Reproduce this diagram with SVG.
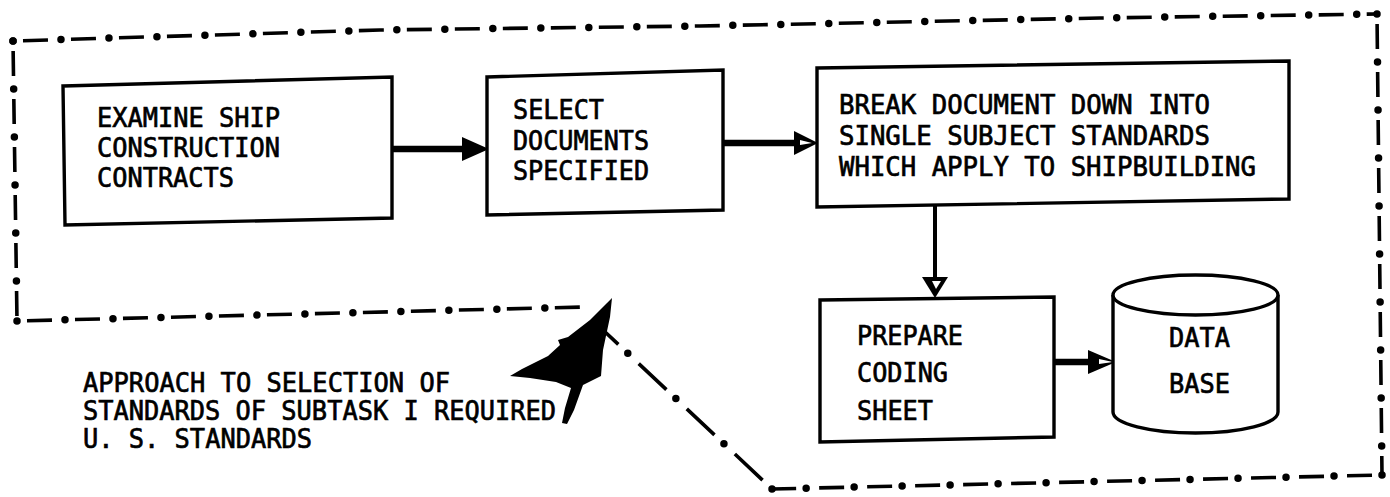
<svg xmlns="http://www.w3.org/2000/svg" width="1390" height="497" viewBox="0 0 1390 497">
<style>
.bg{fill:#fff}
.box{fill:#fff;stroke:#000;stroke-width:3.4;stroke-linejoin:miter}
.t{font-family:"DejaVu Sans Mono","Liberation Mono",monospace;font-size:27px;font-weight:normal;fill:#000;stroke:#000;stroke-width:0.7}
.dash{fill:none;stroke:#000;stroke-width:3.6;stroke-dasharray:25 23;stroke-dashoffset:-10}
.dot{fill:none;stroke:#000;stroke-width:7.5;stroke-linecap:round;stroke-dasharray:0 48}
.ddash{fill:none;stroke:#000;stroke-width:3.6;stroke-dasharray:38 28;stroke-dashoffset:-13}
.ddot{fill:none;stroke:#000;stroke-width:7.5;stroke-linecap:round;stroke-dasharray:0 66}
.shaft{stroke:#000;fill:none}
.head{fill:#000}
.hole{fill:#fff}
</style>
<rect class="bg" x="0" y="0" width="1390" height="497"/>
<defs>
<path id="bTop" d="M13,41 L380,30 L700,26 L1100,18 L1377,14"/>
<path id="bRight" d="M1377,14 L1382,475"/>
<path id="bBotR" d="M1382,475 L772,489"/>
<path id="bDiag" d="M772,489 L603,330"/>
<path id="bBotL" d="M17,321 L583,307"/>
<path id="bLeft" d="M13,41 L17,321"/>
</defs>
<g id="boundary">
<use href="#bTop" class="dash"/><use href="#bTop" class="dot"/>
<use href="#bRight" class="dash"/><use href="#bRight" class="dot"/>
<use href="#bBotR" class="dash"/><use href="#bBotR" class="dot"/>
<use href="#bDiag" class="ddash"/><use href="#bDiag" class="ddot"/>
<use href="#bBotL" class="dash"/><use href="#bBotL" class="dot"/>
<use href="#bLeft" class="dash"/><use href="#bLeft" class="dot"/>
</g>
<g id="connectors">
<line class="shaft" x1="392" y1="149" x2="466" y2="149" stroke-width="6.5"/>
<polygon class="head" points="489,149 462,137 462,161"/>
<line class="shaft" x1="723" y1="143" x2="798" y2="143" stroke-width="6.5"/>
<polygon class="head" points="818,143 794,131 794,155"/>
<polygon class="hole" points="800,140 812,143 800,145"/>
<line class="shaft" x1="935" y1="203" x2="935" y2="280" stroke-width="4"/>
<polygon class="head" points="935,298 922,277 948,277"/>
<polygon class="hole" points="932,281 941,281 936,289"/>
<line class="shaft" x1="1054" y1="362" x2="1090" y2="362" stroke-width="6.5"/>
<polygon class="head" points="1116,362 1088,350 1088,374"/>
<polygon class="hole" points="1099,359 1113,362 1099,364"/>
</g>
<g id="n1">
<polygon class="box" points="63,86 392,77 392,218 65,225"/>
<text class="t" x="97" y="127" textLength="183" lengthAdjust="spacingAndGlyphs">EXAMINE SHIP</text>
<text class="t" x="97" y="157" textLength="183" lengthAdjust="spacingAndGlyphs">CONSTRUCTION</text>
<text class="t" x="97" y="187" textLength="137" lengthAdjust="spacingAndGlyphs">CONTRACTS</text>
</g>
<g id="n2">
<polygon class="box" points="487,77 723,70 723,210 487,215"/>
<text class="t" x="513" y="119" textLength="91" lengthAdjust="spacingAndGlyphs">SELECT</text>
<text class="t" x="513" y="150" textLength="136" lengthAdjust="spacingAndGlyphs">DOCUMENTS</text>
<text class="t" x="513" y="180" textLength="136" lengthAdjust="spacingAndGlyphs">SPECIFIED</text>
</g>
<g id="n3">
<polygon class="box" points="817,68 1289,61 1289,199 817,207"/>
<text class="t" x="839" y="114" textLength="371" lengthAdjust="spacingAndGlyphs">BREAK DOCUMENT DOWN INTO</text>
<text class="t" x="839" y="145" textLength="371" lengthAdjust="spacingAndGlyphs">SINGLE SUBJECT STANDARDS</text>
<text class="t" x="839" y="176" textLength="417" lengthAdjust="spacingAndGlyphs">WHICH APPLY TO SHIPBUILDING</text>
</g>
<g id="n4">
<polygon class="box" points="820,300 1054,297 1054,437 820,442"/>
<text class="t" x="857" y="345" textLength="106" lengthAdjust="spacingAndGlyphs">PREPARE</text>
<text class="t" x="857" y="382" textLength="91" lengthAdjust="spacingAndGlyphs">CODING</text>
<text class="t" x="857" y="420" textLength="76" lengthAdjust="spacingAndGlyphs">SHEET</text>
</g>
<g id="n5">
<path class="box" d="M1113,295 L1113,412 A82.5,21 0 0,0 1278,412 L1278,295"/>
<ellipse class="box" cx="1195.5" cy="295" rx="82.5" ry="20"/>
<text class="t" x="1169" y="347" textLength="61" lengthAdjust="spacingAndGlyphs">DATA</text>
<text class="t" x="1169" y="393" textLength="61" lengthAdjust="spacingAndGlyphs">BASE</text>
</g>
<g id="label">
<polygon class="head" points="612,298 610,317 603,350 601,376 583,385 574,410 567,424 562,423 565,408 571,388 556,382 530,378 510,376 522,369 548,356 560,345 558,340 568,337 590,320 607,303"/>
<text class="t" x="83" y="392" textLength="367" lengthAdjust="spacingAndGlyphs">APPROACH TO SELECTION OF</text>
<text class="t" x="83" y="420" textLength="473" lengthAdjust="spacingAndGlyphs">STANDARDS OF SUBTASK I REQUIRED</text>
<text class="t" x="83" y="448" textLength="229" lengthAdjust="spacingAndGlyphs">U. S. STANDARDS</text>
</g>
</svg>
